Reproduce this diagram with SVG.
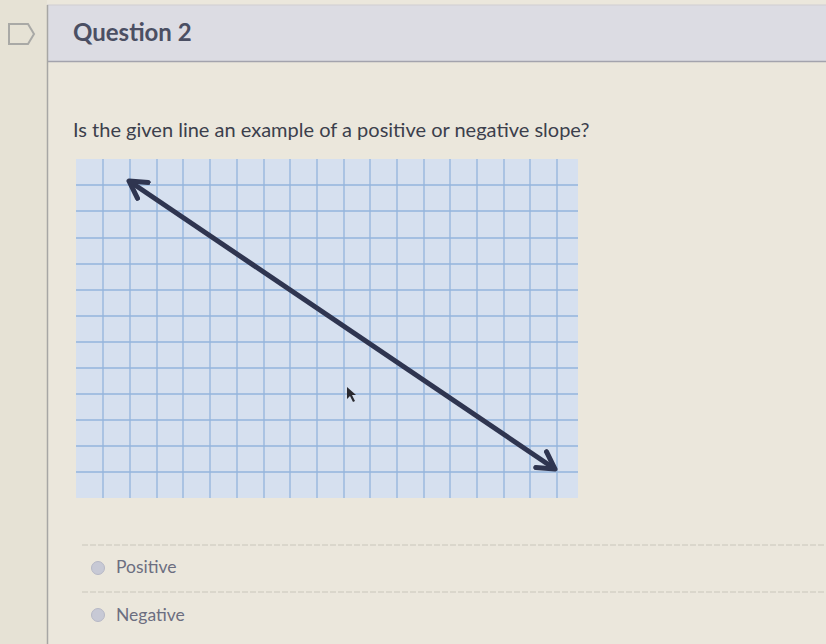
<svg xmlns="http://www.w3.org/2000/svg" width="826" height="644" viewBox="0 0 826 644">
<style>
.vl{stroke:#93b4dc;stroke-width:1.3}
.hl{stroke:#93b4dc;stroke-width:1.3}
.txt{font-family:Lato,"Open Sans","Liberation Sans",sans-serif}
.opt{font-family:Lato,"Open Sans","Liberation Sans",sans-serif;font-size:17.5px;fill:#6b6e80}
.sep{stroke:#c9c6bb;stroke-width:1;stroke-dasharray:6 2}
</style>
<defs>
<marker id="ah" viewBox="0 0 10 10" refX="8" refY="5" markerWidth="4.8" markerHeight="4.8" orient="auto-start-reverse" markerUnits="strokeWidth">
<path d="M1,1 L8,5 L1,9" fill="none" stroke="#2f3550" stroke-width="2.1" stroke-linecap="round" stroke-linejoin="round"/>
</marker>
</defs>
<rect width="826" height="644" fill="#ebe7dc"/>
<rect x="0" y="0" width="47" height="644" fill="#e6e2d5"/>
<g id="flag"><path d="M9,24 H28 L34,34 L28,44 H9 Z" fill="none" stroke="#a9a9a6" stroke-width="2"/></g>
<g id="header">
<rect x="47" y="5" width="779" height="56" fill="#dcdce3"/>
<line x1="47" y1="5" x2="826" y2="5" stroke="#cfcdd2" stroke-width="1"/>
<line x1="47" y1="61.5" x2="826" y2="61.5" stroke="#a3a3ad" stroke-width="1.5"/>
<line x1="47.5" y1="5" x2="47.5" y2="644" stroke="#a7a6a4" stroke-width="1.5"/>
<text class="txt" x="73" y="41" font-size="24" font-weight="bold" fill="#4b4f63">Question 2</text>
</g>
<g id="question"><text class="txt" x="73" y="137" font-size="20" fill="#3c3f4c">Is the given line an example of a positive or negative slope?</text></g>
<g id="grid">
<rect x="76" y="159" width="502" height="339" fill="#d6e0ef"/>
<g class="vl">
<line x1="103" y1="159" x2="103" y2="498"/><line x1="130" y1="159" x2="130" y2="498"/><line x1="157" y1="159" x2="157" y2="498"/><line x1="183" y1="159" x2="183" y2="498"/><line x1="210" y1="159" x2="210" y2="498"/><line x1="237" y1="159" x2="237" y2="498"/><line x1="264" y1="159" x2="264" y2="498"/><line x1="290" y1="159" x2="290" y2="498"/><line x1="317" y1="159" x2="317" y2="498"/><line x1="344" y1="159" x2="344" y2="498"/><line x1="370" y1="159" x2="370" y2="498"/><line x1="397" y1="159" x2="397" y2="498"/><line x1="424" y1="159" x2="424" y2="498"/><line x1="450" y1="159" x2="450" y2="498"/><line x1="477" y1="159" x2="477" y2="498"/><line x1="504" y1="159" x2="504" y2="498"/><line x1="530" y1="159" x2="530" y2="498"/><line x1="557" y1="159" x2="557" y2="498"/>
</g>
<g class="hl">
<line x1="76" y1="185" x2="578" y2="185"/><line x1="76" y1="211" x2="578" y2="211"/><line x1="76" y1="238" x2="578" y2="238"/><line x1="76" y1="264" x2="578" y2="264"/><line x1="76" y1="290" x2="578" y2="290"/><line x1="76" y1="316" x2="578" y2="316"/><line x1="76" y1="342" x2="578" y2="342"/><line x1="76" y1="368" x2="578" y2="368"/><line x1="76" y1="394" x2="578" y2="394"/><line x1="76" y1="420" x2="578" y2="420"/><line x1="76" y1="446" x2="578" y2="446"/><line x1="76" y1="472" x2="578" y2="472"/>
</g>
</g>
<g id="connectors">
<line x1="129" y1="181" x2="555" y2="469" stroke="#2f3550" stroke-width="5" marker-start="url(#ah)" marker-end="url(#ah)"/>
</g>
<g id="cursor"><path d="M347,387 L347,399 L350,396 L353,402 L355,401 L352,395 L356,395 Z" fill="#2a2a30"/></g>
<g id="options">
<line class="sep" x1="82" y1="545" x2="826" y2="545"/>
<line class="sep" x1="82" y1="592" x2="826" y2="592"/>
<circle cx="98" cy="568" r="6.5" fill="#c7c9d5" stroke="#b6b8c6" stroke-width="1"/>
<text class="opt" x="116" y="573">Positive</text>
<circle cx="98" cy="615" r="6.5" fill="#c7c9d5" stroke="#b6b8c6" stroke-width="1"/>
<text class="opt" x="116" y="621">Negative</text>
</g>
</svg>
